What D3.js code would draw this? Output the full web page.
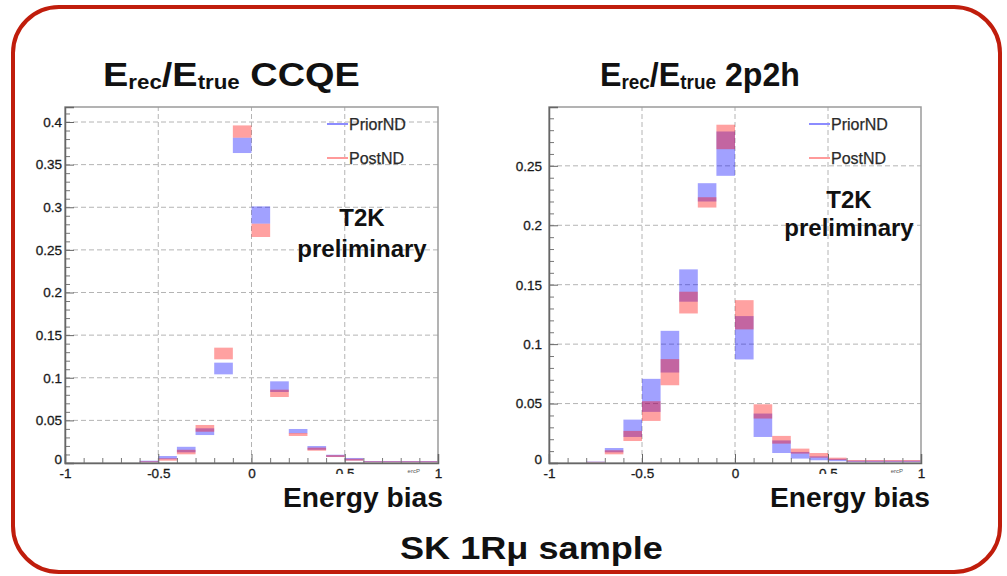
<!DOCTYPE html>
<html>
<head>
<meta charset="utf-8">
<script src="https://cdn.jsdelivr.net/npm/d3@7"></script>
<style>
  html, body { margin: 0; padding: 0; background: #fff; }
  svg { display: block; }
  text { font-family: "Liberation Sans", Arial, Helvetica, sans-serif; }
</style>
</head>
<body>
<svg id="chart" width="1007" height="576"></svg>
<script>
// ---------------- DATA ----------------
// Bin lower edges (bin width 0.1) of the energy bias histogram
const binLow = [-1.0,-0.9,-0.8,-0.7,-0.6,-0.5,-0.4,-0.3,-0.2,-0.1,0.0,0.1,0.2,0.3,0.4,0.5,0.6,0.7,0.8,0.9];
const binWidth = 0.1;

// CCQE: error bands (low / high) for PriorND (blue) and PostND (red)
const ccqePriorLow  = [0,0,0,0,0.0008,0.0045,0.0125,0.0328,0.104,0.3636,0.2807,0.0833,0.0348,0.0155,0.0072,0.0030,0.0012,0.0012,0.0012,0.0012];
const ccqePriorHigh = [0,0,0,0,0.0027,0.0082,0.0190,0.0407,0.1177,0.3816,0.3010,0.0958,0.0399,0.0199,0.0097,0.0059,0.0023,0.0023,0.0023,0.0023];
const ccqePostLow   = [0,0,0,0,0.0005,0.0027,0.0102,0.0367,0.1216,0.3816,0.2651,0.0774,0.0317,0.0144,0.0070,0.0027,0.0010,0.0010,0.0010,0.0010];
const ccqePostHigh  = [0,0,0,0,0.0020,0.0055,0.0155,0.0446,0.1353,0.3960,0.2807,0.0860,0.0352,0.0180,0.0092,0.0050,0.0020,0.0020,0.0020,0.0020];

// 2p2h
const mecPriorLow  = [0,0,0.0004,0.0090,0.0219,0.0430,0.0761,0.1357,0.2200,0.2416,0.0871,0.0219,0.0084,0.0037,0.0023,0.0015,0.0008,0.0008,0.0008,0.0008];
const mecPriorHigh = [0,0,0.0012,0.0126,0.0365,0.0708,0.1112,0.1629,0.2354,0.2789,0.1236,0.0416,0.0190,0.0093,0.0056,0.0035,0.0020,0.0020,0.0020,0.0020];
const mecPostLow   = [0,0,0.0003,0.0073,0.0185,0.0354,0.0654,0.1258,0.2149,0.2640,0.1124,0.0374,0.0163,0.0079,0.0045,0.0025,0.0012,0.0012,0.0012,0.0012];
const mecPostHigh  = [0,0,0.0010,0.0107,0.0270,0.0520,0.0874,0.1441,0.2236,0.2846,0.1370,0.0494,0.0228,0.0121,0.0084,0.0045,0.0025,0.0025,0.0025,0.0025];

// Axis ticks
const xMajorTicks = [-1, -0.5, 0, 0.5, 1];
const xTickLabels = ["-1", "-0.5", "0", "0.5", "1"];
const xMinorTicks = [-0.9,-0.8,-0.7,-0.6,-0.4,-0.3,-0.2,-0.1,0.1,0.2,0.3,0.4,0.6,0.7,0.8,0.9];
const ccqeYTicks = [0, 0.05, 0.1, 0.15, 0.2, 0.25, 0.3, 0.35, 0.4];
const ccqeYLabels = ["0","0.05","0.1","0.15","0.2","0.25","0.3","0.35","0.4"];
const mecYTicks = [0, 0.05, 0.1, 0.15, 0.2, 0.25];
const mecYLabels = ["0","0.05","0.1","0.15","0.2","0.25"];
const ccqeYMax = 0.4176;
const mecYMax = 0.2995;

const seriesNames = ["PriorND", "PostND"];
const titles = ["CCQE", "2p2h"];

// ---------------- DRAW ----------------
const svg = d3.select("#chart");
const FONT = '"Liberation Sans", Arial, Helvetica, sans-serif';
const blueFill = "rgba(0,0,255,0.37)";
const redFill = "rgba(255,0,0,0.37)";

// Red rounded border
svg.append("rect")
  .attr("x", 13).attr("y", 7).attr("width", 987).attr("height", 565)
  .attr("rx", 46).attr("ry", 46)
  .attr("fill", "none").attr("stroke", "#c01d0c").attr("stroke-width", 4);

function fitText(sel, x0, targetW) {
  const node = sel.node();
  const w = node.getComputedTextLength();
  const y = +sel.attr("data-y");
  sel.attr("x", 0).attr("y", 0)
     .attr("transform", `translate(${x0},${y}) scale(${targetW / w},1)`);
}

function panel(opts) {
  const g = svg.append("g");
  const x = d3.scaleLinear().domain([-1, 1]).range([opts.x0, opts.x1]);
  const y = d3.scaleLinear().domain([0, opts.yMax]).range([463, 107]);

  // grid
  const gridY = opts.yTicks.filter(v => v > 0);
  g.selectAll(".gy").data(gridY).join("line")
    .attr("x1", x(-1)).attr("x2", x(1))
    .attr("y1", d => y(d)).attr("y2", d => y(d))
    .attr("stroke", "#b4b4b4").attr("stroke-width", 1).attr("stroke-dasharray", "5,3");
  g.selectAll(".gx").data([-0.5, 0, 0.5]).join("line")
    .attr("x1", d => x(d)).attr("x2", d => x(d))
    .attr("y1", y(0)).attr("y2", y(opts.yMax))
    .attr("stroke", "#b4b4b4").attr("stroke-width", 1).attr("stroke-dasharray", "5,3");

  // bands
  const bandsBlue = binLow.map((b, i) => ({ b, lo: opts.priorLow[i], hi: opts.priorHigh[i] })).filter(d => d.hi > 0);
  const bandsRed = binLow.map((b, i) => ({ b, lo: opts.postLow[i], hi: opts.postHigh[i] })).filter(d => d.hi > 0);
  g.selectAll(".bb").data(bandsBlue).join("rect")
    .attr("x", d => x(d.b)).attr("width", d => x(d.b + binWidth) - x(d.b))
    .attr("y", d => y(d.hi)).attr("height", d => Math.max(1.2, y(d.lo) - y(d.hi)))
    .attr("fill", blueFill);
  g.selectAll(".br").data(bandsRed).join("rect")
    .attr("x", d => x(d.b)).attr("width", d => x(d.b + binWidth) - x(d.b))
    .attr("y", d => y(d.hi)).attr("height", d => Math.max(1.2, y(d.lo) - y(d.hi)))
    .attr("fill", redFill);

  // frame
  g.append("rect").attr("x", x(-1)).attr("y", y(opts.yMax))
    .attr("width", x(1) - x(-1)).attr("height", y(0) - y(opts.yMax))
    .attr("fill", "none").attr("stroke", "#9a9a9a").attr("stroke-width", 1.5);

  // y axis (ticks inward)
  const yMinor = d3.range(0, opts.yMax, 0.01).map(v => +v.toFixed(3)).filter(v => !opts.yTicks.some(t => Math.abs(t - v) < 1e-6));
  g.append("g").attr("transform", `translate(${x(-1)},0)`)
    .call(d3.axisLeft(y).tickValues(yMinor).tickSize(-5).tickFormat(""))
    .call(a => a.select(".domain").remove())
    .call(a => a.selectAll("line").attr("stroke", "#777"));
  g.append("g").attr("transform", `translate(${x(-1)},0)`)
    .call(d3.axisLeft(y).tickValues(opts.yTicks).tickSize(-9).tickPadding(opts.yPad)
      .tickFormat((d, i) => opts.yLabels[i]))
    .call(a => a.select(".domain").attr("stroke", "#666").attr("stroke-width", 1.5))
    .call(a => a.selectAll("line").attr("stroke", "#666"))
    .call(a => a.selectAll("text").attr("font-family", FONT).attr("font-size", 13.5)
      .attr("fill", "#1a1a1a").attr("stroke", "#1a1a1a").attr("stroke-width", 0.3)
      .attr("dy", d => d === 0 ? "0.05em" : "0.32em"));

  // x axis (ticks upward)
  g.append("g").attr("transform", `translate(0,${y(0)})`)
    .call(d3.axisBottom(x).tickValues(xMinorTicks).tickSize(-5).tickFormat(""))
    .call(a => a.select(".domain").remove())
    .call(a => a.selectAll("line").attr("stroke", "#777"));
  g.append("g").attr("transform", `translate(0,${y(0)})`)
    .call(d3.axisBottom(x).tickValues(xMajorTicks).tickSize(-9).tickPadding(5)
      .tickFormat((d, i) => xTickLabels[i]))
    .call(a => a.select(".domain").attr("stroke", "#666").attr("stroke-width", 1.5))
    .call(a => a.selectAll("line").attr("stroke", "#666"))
    .call(a => a.selectAll("text").attr("font-family", FONT).attr("font-size", 13.5)
      .attr("fill", "#1a1a1a").attr("stroke", "#1a1a1a").attr("stroke-width", 0.3));

  // tiny axis title remnant
  g.append("text").attr("x", x(0.87)).attr("y", 473).attr("text-anchor", "middle")
    .attr("font-size", 6).attr("fill", "#555").text("ercP");

  // white box for "Energy bias"
  g.append("rect").attr("x", opts.ebX - 14).attr("y", 474).attr("width", 160).attr("height", 40).attr("fill", "#fff");
  const eb = g.append("text").attr("data-y", 507).attr("font-size", 27).attr("font-weight", "bold")
    .attr("fill", "#111").text("Energy bias");
  fitText(eb, opts.ebX, 160);

  // legend
  const leg = g.append("g");
  const legColors = ["#8c8cff", "#ff9a9a"];
  seriesNames.forEach((name, i) => {
    const ly = 124 + i * 34;
    leg.append("line").attr("x1", opts.legX).attr("x2", opts.legX + 21)
      .attr("y1", ly).attr("y2", ly).attr("stroke", legColors[i]).attr("stroke-width", 2);
    leg.append("text").attr("x", opts.legX + 22).attr("y", ly + 6)
      .attr("font-size", 16).attr("fill", "#2a2a2a").attr("stroke", "#2a2a2a").attr("stroke-width", 0.25).text(name);
  });

  // T2K preliminary
  g.append("text").attr("x", opts.t2kX).attr("y", opts.t2kY).attr("text-anchor", "middle")
    .attr("font-size", 24).attr("font-weight", "bold").attr("fill", "#111").text("T2K");
  g.append("text").attr("x", opts.t2kX).attr("y", opts.t2kY + opts.prelimDy).attr("text-anchor", "middle")
    .attr("font-size", 24).attr("font-weight", "bold").attr("fill", "#111").text("preliminary");

  // Title
  const t = svg.append("text").attr("data-y", 86).attr("font-size", 34).attr("font-weight", "bold").attr("fill", "#111");
  t.append("tspan").text("E");
  t.append("tspan").attr("font-size", 20).attr("dy", 3).text("rec");
  t.append("tspan").attr("dy", -3).text("/E");
  t.append("tspan").attr("font-size", 20).attr("dy", 3).text("true");
  t.append("tspan").attr("dy", -3).text(" " + opts.title);
  fitText(t, opts.titleX, opts.titleW);
}

panel({
  x0: 65, x1: 438, yMax: ccqeYMax, yTicks: ccqeYTicks, yLabels: ccqeYLabels, yPad: 3,
  priorLow: ccqePriorLow, priorHigh: ccqePriorHigh, postLow: ccqePostLow, postHigh: ccqePostHigh,
  ebX: 283, legX: 327, t2kX: 362, t2kY: 226, prelimDy: 31,
  title: titles[0], titleX: 103, titleW: 257
});
panel({
  x0: 549, x1: 921, yMax: mecYMax, yTicks: mecYTicks, yLabels: mecYLabels, yPad: 7,
  priorLow: mecPriorLow, priorHigh: mecPriorHigh, postLow: mecPostLow, postHigh: mecPostHigh,
  ebX: 770, legX: 809, t2kX: 849, t2kY: 208, prelimDy: 28,
  title: titles[1], titleX: 600, titleW: 200
});

// bottom caption
const sk = svg.append("text").attr("data-y", 559).attr("font-size", 32).attr("font-weight", "bold")
  .attr("fill", "#111").text("SK 1Rμ sample");
fitText(sk, 400, 263);
</script>
</body>
</html>
